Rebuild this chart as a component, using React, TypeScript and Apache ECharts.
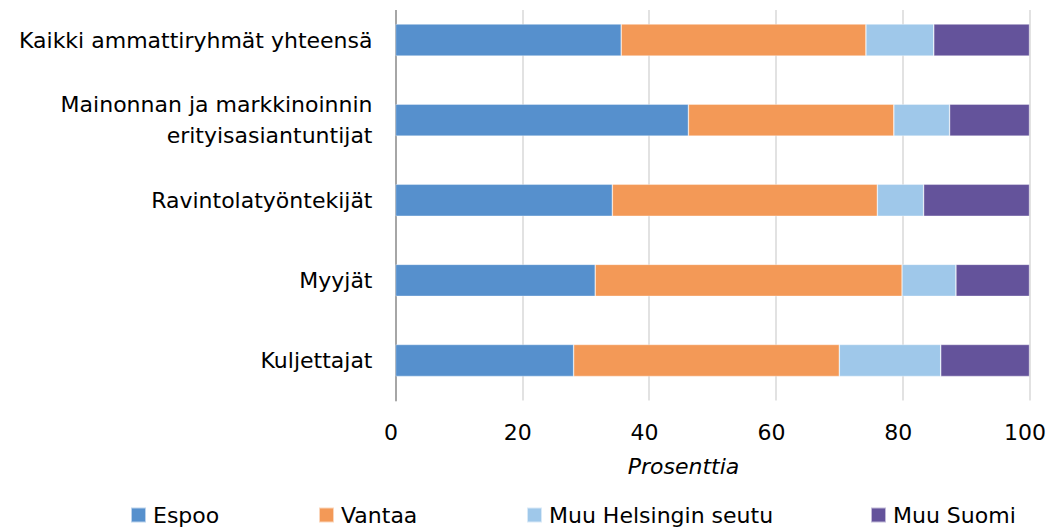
import React, { useEffect, useRef } from "react";
import * as echarts from "echarts";

const categories = [
  "Kaikki ammattiryhmät yhteensä",
  "Mainonnan ja markkinoinnin\nerityisasiantuntijat",
  "Ravintolatyöntekijät",
  "Myyjät",
  "Kuljettajat",
];
const espoo = [35.6, 46.2, 34.2, 31.5, 28.1];
const vantaa = [38.6, 32.4, 41.8, 48.4, 41.9];
const muuHelsinginSeutu = [10.7, 8.8, 7.3, 8.5, 16.0];
const muuSuomi = [15.1, 12.6, 16.7, 11.6, 14.0];
const seriesNames = ["Espoo", "Vantaa", "Muu Helsingin seutu", "Muu Suomi"];
const colors = ["#5690CD", "#F39957", "#9FC8EA", "#64539B"];
const xTicks = [0, 20, 40, 60, 80, 100];
const legendLeft = [130, 318, 526, 870];

const FONT = "'DejaVu Sans', sans-serif";

export default function App() {
  const ref = useRef<HTMLDivElement>(null);
  useEffect(() => {
    if (!ref.current) return;
    const chart = echarts.init(ref.current, undefined, { renderer: "svg" });
    const data = [espoo, vantaa, muuHelsinginSeutu, muuSuomi];
    chart.setOption({
      animation: false,
      color: colors,
      textStyle: { fontFamily: FONT },
      grid: { left: 395.5, right: 18.4, top: -4.5, bottom: 127.5, containLabel: false },
      legend: seriesNames.map((name, i) => ({
        data: [name],
        left: legendLeft[i],
        top: 504,
        padding: 0,
        itemWidth: 15,
        itemHeight: 15,
        itemGap: 0,
        icon: "rect",
        textStyle: { fontSize: 22, lineHeight: 22, color: "#000", fontFamily: FONT, padding: [0, 0, 0, 2] },
      })),
      xAxis: {
        type: "value",
        min: xTicks[0],
        max: xTicks[xTicks.length - 1],
        interval: 20,
        name: "Prosenttia",
        nameLocation: "middle",
        nameGap: 55,
        nameTextStyle: {
          fontSize: 22,
          fontStyle: "italic",
          color: "#000",
          fontFamily: FONT,
          padding: [0, 58, 0, 0],
        },
        axisLine: { show: false },
        axisTick: { show: false },
        axisLabel: {
          fontSize: 22,
          color: "#000",
          margin: 21,
          fontFamily: FONT,
          padding: [0, 9, 0, 0],
        },
        splitLine: { show: true, lineStyle: { color: "#D9D9D9", width: 1.5 } },
      },
      yAxis: {
        type: "category",
        data: categories,
        inverse: true,
        axisLine: { show: true, lineStyle: { color: "#A6A6A6", width: 2 } },
        axisTick: { show: false },
        axisLabel: {
          fontSize: 22,
          color: "#000",
          margin: 23,
          lineHeight: 31,
          align: "right",
          fontFamily: FONT,
        },
      },
      graphic: [
        {
          type: "rect",
          shape: { x: 385, y: 0, width: 664, height: 10 },
          style: { fill: "#fff" },
          z: 100,
        },
      ],
      series: seriesNames.map((name, i) => ({
        name,
        type: "bar",
        stack: "total",
        barWidth: 32,
        data: data[i],
        itemStyle: { color: colors[i], borderColor: "rgba(255,255,255,0.6)", borderWidth: 0.6 },
      })),
    });
    return () => chart.dispose();
  }, []);
  return (
    <div
      ref={ref}
      style={{ position: "fixed", left: 0, top: 0, width: 1049, height: 528, background: "#fff" }}
    />
  );
}
